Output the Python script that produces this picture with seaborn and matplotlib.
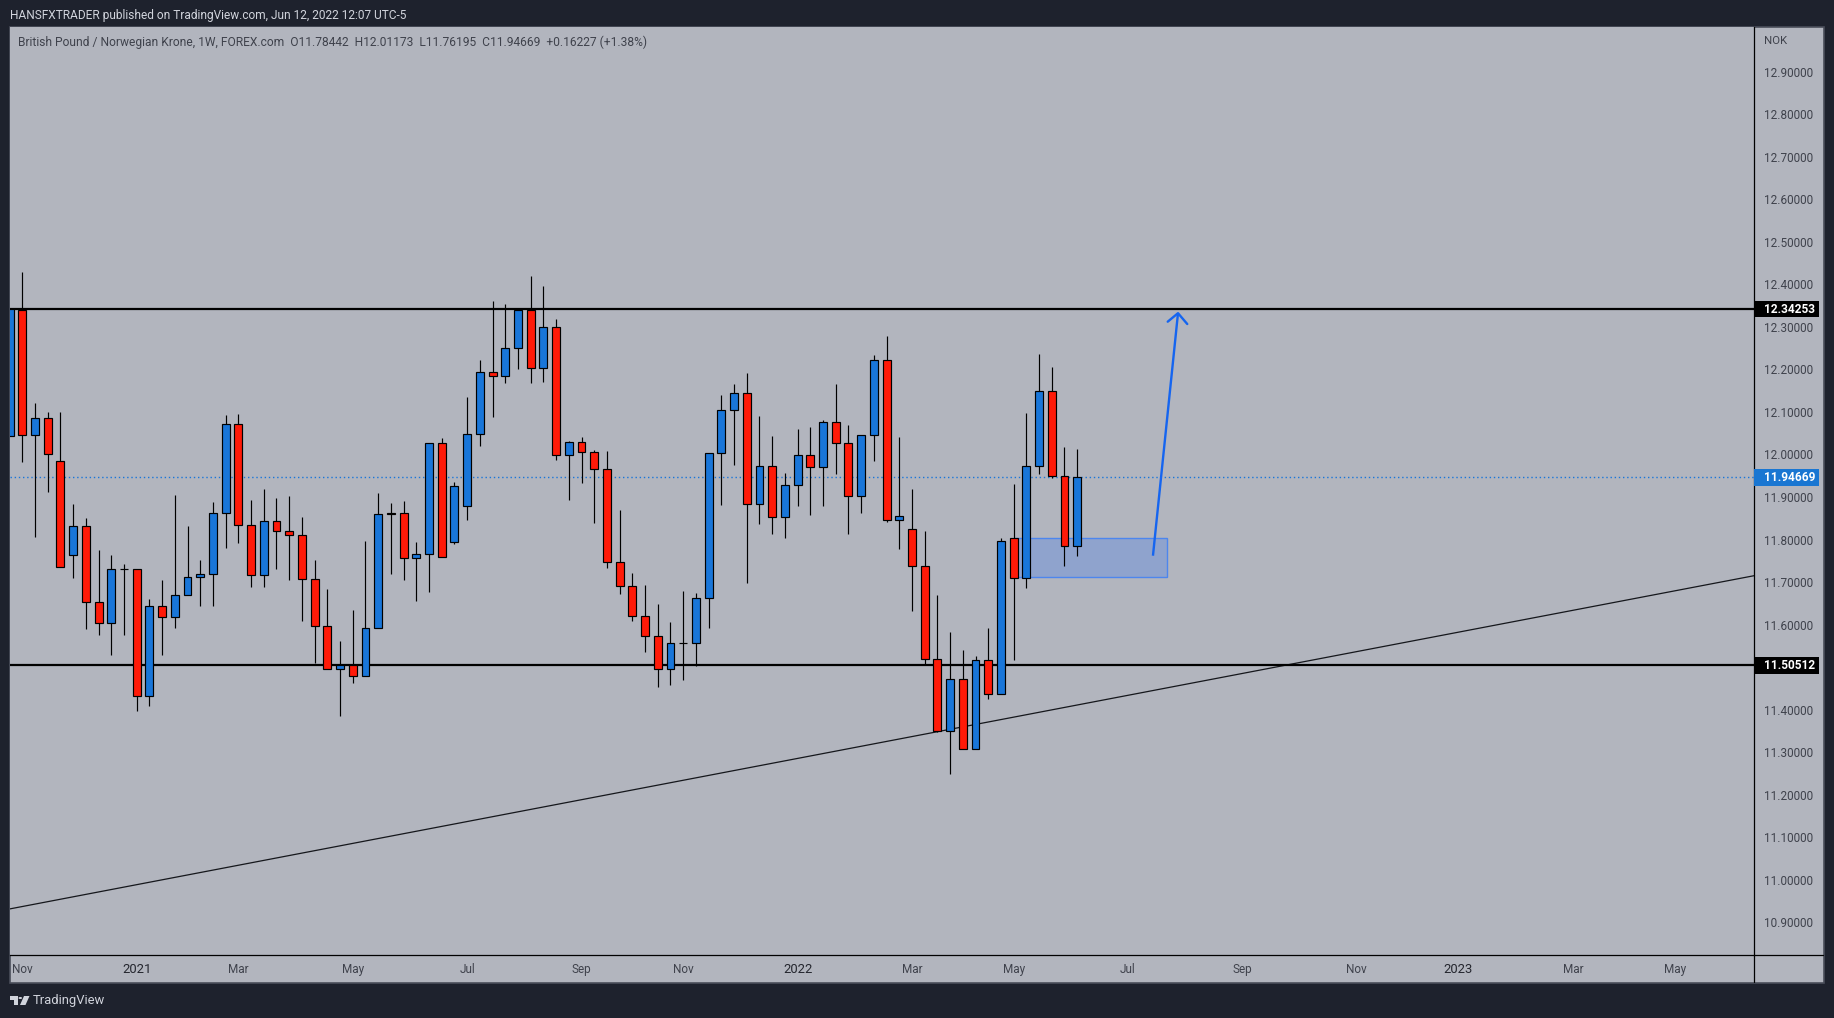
import matplotlib
matplotlib.use("Agg")
import matplotlib.pyplot as plt
from matplotlib.patches import Polygon, Rectangle
from matplotlib.transforms import blended_transform_factory
import numpy as np
import pandas as pd
import seaborn as sns

# Weekly GBP/NOK candles (week index -1 is cut by the left edge)
opens = [
    12.043, 12.340, 12.045, 12.085, 11.984, 11.763, 11.832, 11.653, 11.604, 11.731,
    11.731, 11.432, 11.644, 11.618, 11.670, 11.712, 11.719, 11.862, 12.071, 11.834,
    11.717, 11.843, 11.820, 11.810, 11.707, 11.597, 11.496, 11.505, 11.479, 11.592,
    11.862, 11.862, 11.756, 11.766, 12.027, 11.794, 11.879, 12.048, 12.193, 12.184,
    12.250, 12.339, 12.203, 12.299, 11.998, 12.029, 12.005, 11.966, 11.747, 11.691,
    11.620, 11.573, 11.496, 11.557, 11.557, 11.662, 12.003, 12.104, 12.144, 11.883,
    11.973, 11.853, 11.928, 11.998, 11.971, 12.076, 12.027, 11.902, 12.046, 12.222,
    11.846, 11.825, 11.738, 11.520, 11.350, 11.473, 11.308, 11.517, 11.437, 11.804,
    11.710, 11.973, 12.149, 11.949, 11.78442,
]
highs = [
    12.343, 12.428, 12.121, 12.099, 12.099, 11.883, 11.850, 11.775, 11.763, 11.742,
    11.731, 11.660, 11.705, 11.904, 11.832, 11.752, 11.888, 12.092, 12.095, 11.893,
    11.919, 11.897, 11.902, 11.853, 11.752, 11.684, 11.561, 11.634, 11.796, 11.909,
    11.886, 11.890, 11.794, 12.027, 12.038, 11.935, 12.135, 12.222, 12.360, 12.353,
    12.339, 12.419, 12.395, 12.318, 12.031, 12.041, 12.010, 12.008, 11.869, 11.721,
    11.693, 11.648, 11.606, 11.679, 11.674, 12.003, 12.139, 12.165, 12.191, 12.090,
    12.043, 11.956, 12.059, 12.064, 12.081, 12.166, 12.069, 12.046, 12.234, 12.278,
    12.041, 11.919, 11.820, 11.670, 11.583, 11.541, 11.527, 11.592, 11.804, 11.931,
    12.097, 12.236, 12.205, 12.018, 12.01173,
]
lows = [
    12.043, 11.983, 11.807, 11.911, 11.735, 11.709, 11.589, 11.575, 11.528, 11.575,
    11.396, 11.408, 11.528, 11.591, 11.670, 11.645, 11.643, 11.779, 11.791, 11.688,
    11.688, 11.730, 11.706, 11.608, 11.511, 11.496, 11.385, 11.462, 11.479, 11.592,
    11.720, 11.706, 11.655, 11.676, 11.759, 11.789, 11.845, 12.021, 12.087, 12.167,
    12.202, 12.167, 12.171, 11.986, 11.894, 11.934, 11.840, 11.732, 11.673, 11.608,
    11.535, 11.453, 11.457, 11.469, 11.502, 11.591, 11.882, 11.976, 11.699, 11.836,
    11.814, 11.803, 11.878, 11.857, 11.878, 11.953, 11.812, 11.862, 11.984, 11.841,
    11.777, 11.631, 11.508, 11.347, 11.249, 11.308, 11.308, 11.425, 11.437, 11.518,
    11.686, 11.953, 11.944, 11.737, 11.76195,
]
closes = [
    12.343, 12.045, 12.085, 12.001, 11.735, 11.832, 11.653, 11.604, 11.731, 11.731,
    11.432, 11.644, 11.618, 11.670, 11.712, 11.719, 11.862, 12.071, 11.834, 11.717,
    11.843, 11.820, 11.810, 11.707, 11.597, 11.496, 11.505, 11.479, 11.592, 11.860,
    11.860, 11.756, 11.766, 12.027, 11.759, 11.926, 12.048, 12.193, 12.184, 12.250,
    12.339, 12.203, 12.299, 11.998, 12.029, 12.005, 11.966, 11.747, 11.691, 11.620,
    11.573, 11.496, 11.557, 11.557, 11.662, 12.003, 12.104, 12.144, 11.883, 11.973,
    11.853, 11.928, 11.998, 11.970, 12.076, 12.027, 11.902, 12.046, 12.222, 11.846,
    11.855, 11.738, 11.520, 11.350, 11.473, 11.308, 11.517, 11.437, 11.797, 11.710,
    11.973, 12.149, 11.949, 11.785, 11.94669,
]

# Drawn levels and shapes on the chart
resistance = 12.34253
support = 11.50512
last_close = 11.94669
trend_x = [-0.97, 136.25]
trend_y = [10.932, 11.715]
zone_x = [78, 90.04]
zone_y = [11.712, 11.804]
arrow_x = [88.96, 90.93]
arrow_y = [11.762, 12.332]
head_x = [90.12, 90.93, 91.66]
head_y = [12.312, 12.332, 12.3065]

# Axis labels (11.50000 sits under the support price tag in the original)
price_ticks = [10.9, 11.0, 11.1, 11.2, 11.3, 11.4, 11.6, 11.7, 11.8, 11.9, 12.0,
               12.1, 12.2, 12.3, 12.4, 12.5, 12.6, 12.7, 12.8, 12.9]
month_ticks = [0, 9, 17, 26, 35, 44, 52, 61, 70, 78, 87, 96, 105, 113, 122, 130]
month_labels = ["Nov", "2021", "Mar", "May", "Jul", "Sep", "Nov", "2022", "Mar", "May",
                "Jul", "Sep", "Nov", "2023", "Mar", "May"]

DARK = "#1E222D"
PANEL = "#B2B5BE"
UP = "#1976D9"
DOWN = "#FF1A08"
TEXT = "#3F424C"

W, H = 1834, 1018

sns.set_theme(style="white")
plt.rcParams["font.family"] = ["Roboto", "DejaVu Sans"]

fig = plt.figure(figsize=(W / 100, H / 100), dpi=100, facecolor=DARK)


def px_rect(x0, y0, x1, y1):
    # pixel box (top-left origin) to figure fractions
    return [x0 / W, 1 - y1 / H, (x1 - x0) / W, (y1 - y0) / H]


def px_text(x, y, s, **kw):
    fig.text(x / W, 1 - y / H, s, va="center", **kw)


def px_poly(points, color):
    pts = [(x / W, 1 - y / H) for x, y in points]
    fig.add_artist(Polygon(pts, closed=True, transform=fig.transFigure, fc=color, ec="none"))


def px_line(x0, y0, x1, y1):
    fig.add_artist(plt.Line2D([x0 / W, x1 / W], [1 - y0 / H, 1 - y1 / H], color="black",
                              lw=0.9, transform=fig.transFigure))


# Outer grey panel including the axis strips
x0, y0, w0, h0 = px_rect(10, 27, 1824, 982.5)
fig.add_artist(Rectangle((x0, y0), w0, h0, transform=fig.transFigure,
                         fc=PANEL, ec="#4A4E5A", lw=1.2, zorder=-1))

ax = fig.add_axes(px_rect(10, 27, 1754, 955))
ax.set_facecolor(PANEL)
ax.set_xlim(-0.968, 136.25)
ax.set_ylim(10.8236, 13.0046)

df = pd.DataFrame({"week": np.arange(-1, 84), "open": opens, "high": highs,
                   "low": lows, "close": closes})
df["color"] = np.where(df["close"] > df["open"], UP, DOWN)

# Levels behind the candles
ax.axhline(last_close, color=UP, lw=1.0, ls=(0, (1, 2)), zorder=1)
sns.lineplot(x=trend_x, y=trend_y, ax=ax, color="#15171C", lw=0.9, zorder=1)
sns.lineplot(x=[trend_x[0], trend_x[1]], y=[resistance, resistance], ax=ax, color="black", lw=1.6, zorder=1)
sns.lineplot(x=[trend_x[0], trend_x[1]], y=[support, support], ax=ax, color="black", lw=1.6, zorder=1)

ax.add_patch(Rectangle((zone_x[0], zone_y[0]), zone_x[1] - zone_x[0], zone_y[1] - zone_y[0],
                       fc="#8FA3CD", ec="#4D86EE", lw=1.0, zorder=1.5))

# Candles
ax.vlines(df["week"], df["low"], df["high"], color="black", lw=0.85, zorder=2)
ax.bar(df["week"], (df["close"] - df["open"]).abs(), bottom=df[["open", "close"]].min(axis=1),
       width=0.62, color=df["color"], edgecolor="black", linewidth=0.85, zorder=3)

# Arrow on top
ax.plot(arrow_x, arrow_y, color="#1565F0", lw=1.7, zorder=4, solid_capstyle="butt")
ax.plot(head_x, head_y, color="#1565F0", lw=1.7, zorder=4)

# Axes
for side in ["top", "left"]:
    ax.spines[side].set_visible(False)
for side in ["right", "bottom"]:
    ax.spines[side].set_color("black")
    ax.spines[side].set_linewidth(0.9)
ax.yaxis.tick_right()
ax.set_yticks(price_ticks)
ax.set_yticklabels([f"{p:.5f}" for p in price_ticks], fontsize=8.5, color=TEXT)
ax.tick_params(axis="y", length=0, pad=7.2)
ax.set_xticks(month_ticks)
ax.set_xticklabels(month_labels, fontsize=8.5, color=TEXT)
ax.tick_params(axis="x", length=0, pad=6)
for lab in ax.get_xticklabels():
    if lab.get_text().isdigit():
        lab.set_color("#24262E")
        lab.set_fontsize(9.4)

# Axis lines run on through the strips
px_line(1754, 955, 1754, 982)
px_line(1754, 955, 1823, 955)

# Price tags on the right axis
tag_tr = blended_transform_factory(ax.transAxes, ax.transData)
for price, bg in [(resistance, "black"), (last_close, "#1976D2"), (support, "black")]:
    ax.add_patch(Rectangle((1.0, price - 0.0205), 0.0371, 0.039, transform=tag_tr,
                           fc=bg, ec="none", clip_on=False, zorder=5))
    ax.text(1 + 10 / 1744, price - 0.002, f"{price:.5f}", transform=tag_tr, color="white",
            fontsize=8.6, fontweight="bold", va="center", ha="left", zorder=6)

px_text(1764, 41, "NOK", fontsize=8.2, color=TEXT)
px_text(10, 16, "HANSFXTRADER published on TradingView.com, Jun 12, 2022 12:07 UTC-5",
        fontsize=8.6, color="#D1D4DC")
px_text(18, 42, "British Pound / Norwegian Krone, 1W, FOREX.com  O11.78442  H12.01173  L11.76195  "
        "C11.94669  +0.16227 (+1.38%)", fontsize=8.65, color=TEXT)

# TradingView logo and wordmark
px_poly([(10, 996), (17.5, 996), (17.5, 1005), (13.5, 1005), (13.5, 1000), (10, 1000)], "#D1D4DC")
px_poly([(24, 996), (29.5, 996), (25.5, 1005), (20, 1005)], "#D1D4DC")
fig.add_artist(plt.Circle((20.3 / W, 1 - 998 / H), 1.8 / W, transform=fig.transFigure, fc="#D1D4DC", ec="none"))
px_text(33, 1000.5, "TradingView", fontsize=9.4, color="#D1D4DC")

fig.savefig("out.png", dpi=100, facecolor=DARK)
